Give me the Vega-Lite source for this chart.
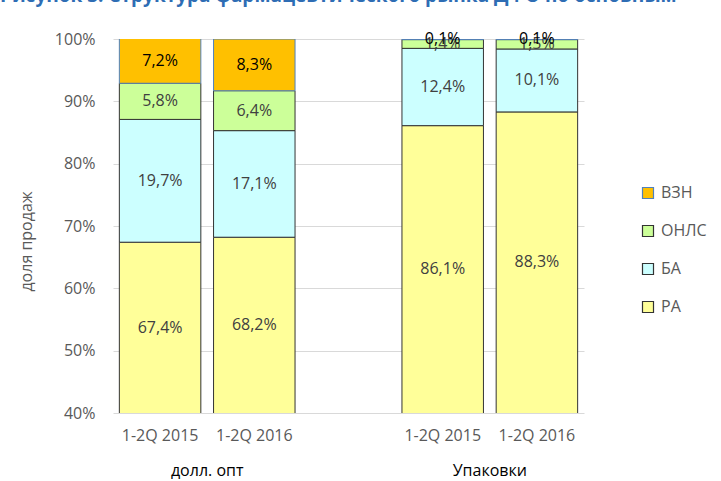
{
  "$schema": "https://vega.github.io/schema/vega-lite/v6.json",
  "width": 471,
  "height": 374,
  "autosize": {"type": "none"},
  "padding": {"left": 113, "top": 39, "right": 137, "bottom": 68},
  "background": "#ffffff",
  "title": {
    "text": "Рисунок 3. Структура фармацевтического рынка ДФО по основным",
    "anchor": "start",
    "frame": "group",
    "dx": -113,
    "offset": 10,
    "baseline": "alphabetic",
    "font": "Open Sans",
    "fontSize": 19,
    "fontWeight": "bold",
    "color": "#2E6DB4"
  },
  "config": {
    "view": {"stroke": null},
    "locale": {"number": {"decimal": ",", "thousands": " ", "grouping": [3], "currency": ["", ""]}},
    "axis": {"labelFont": "Open Sans", "titleFont": "Open Sans", "gridColor": "#D9D9D9"},
    "legend": {"labelFont": "Open Sans"}
  },
  "data": {
    "values": [
      {"group": "долл. опт", "period": "1-2Q 2015", "bar": "долл. опт, 1-2Q 2015", "cat": "РА", "val": 0.674},
      {"group": "долл. опт", "period": "1-2Q 2015", "bar": "долл. опт, 1-2Q 2015", "cat": "БА", "val": 0.197},
      {"group": "долл. опт", "period": "1-2Q 2015", "bar": "долл. опт, 1-2Q 2015", "cat": "ОНЛС", "val": 0.058},
      {"group": "долл. опт", "period": "1-2Q 2015", "bar": "долл. опт, 1-2Q 2015", "cat": "ВЗН", "val": 0.072},
      {"group": "долл. опт", "period": "1-2Q 2016", "bar": "долл. опт, 1-2Q 2016", "cat": "РА", "val": 0.682},
      {"group": "долл. опт", "period": "1-2Q 2016", "bar": "долл. опт, 1-2Q 2016", "cat": "БА", "val": 0.171},
      {"group": "долл. опт", "period": "1-2Q 2016", "bar": "долл. опт, 1-2Q 2016", "cat": "ОНЛС", "val": 0.064},
      {"group": "долл. опт", "period": "1-2Q 2016", "bar": "долл. опт, 1-2Q 2016", "cat": "ВЗН", "val": 0.083},
      {"group": "Упаковки", "period": "1-2Q 2015", "bar": "Упаковки, 1-2Q 2015", "cat": "РА", "val": 0.861},
      {"group": "Упаковки", "period": "1-2Q 2015", "bar": "Упаковки, 1-2Q 2015", "cat": "БА", "val": 0.124},
      {"group": "Упаковки", "period": "1-2Q 2015", "bar": "Упаковки, 1-2Q 2015", "cat": "ОНЛС", "val": 0.014},
      {"group": "Упаковки", "period": "1-2Q 2015", "bar": "Упаковки, 1-2Q 2015", "cat": "ВЗН", "val": 0.001},
      {"group": "Упаковки", "period": "1-2Q 2016", "bar": "Упаковки, 1-2Q 2016", "cat": "РА", "val": 0.883},
      {"group": "Упаковки", "period": "1-2Q 2016", "bar": "Упаковки, 1-2Q 2016", "cat": "БА", "val": 0.101},
      {"group": "Упаковки", "period": "1-2Q 2016", "bar": "Упаковки, 1-2Q 2016", "cat": "ОНЛС", "val": 0.015},
      {"group": "Упаковки", "period": "1-2Q 2016", "bar": "Упаковки, 1-2Q 2016", "cat": "ВЗН", "val": 0.001}
    ]
  },
  "layer": [
    {
      "mark": {"type": "bar", "clip": true, "strokeWidth": 1},
      "encoding": {
        "x": {
          "field": "bar", "type": "nominal",
          "scale": {"type": "band", "domain": ["долл. опт, 1-2Q 2015", "долл. опт, 1-2Q 2016", " ", "Упаковки, 1-2Q 2015", "Упаковки, 1-2Q 2016"], "paddingInner": 0.135, "paddingOuter": 0.0675},
          "axis": {"title": null, "labelExpr": "split(datum.label, ', ')[1] || ''", "labelAngle": 0, "domain": false, "ticks": false, "grid": false, "labelPadding": 14, "labelFontSize": 16, "labelColor": "#595959"}
        },
        "y": {
          "field": "val", "type": "quantitative", "stack": "zero",
          "scale": {"domain": [0.4, 1]},
          "axis": {"title": "доля продаж", "format": ".0%", "values": [0.4, 0.5, 0.6, 0.7, 0.8, 0.9, 1.0], "domain": false, "ticks": false, "grid": true, "labelPadding": 18, "labelFontSize": 16, "labelColor": "#595959", "titleFontSize": 16, "titleFontWeight": "normal", "titleColor": "#595959", "titlePadding": 20, "titleY": 202}
        },
        "order": {"field": "group"},
        "fill": {
          "field": "cat", "type": "nominal", "sort": ["РА", "БА", "ОНЛС", "ВЗН"],
          "scale": {"range": ["#FFFF99", "#CCFFFF", "#CCFF99", "#FFC000"]},
          "legend": {
            "title": null, "orient": "none", "legendX": 527, "legendY": 146,
            "values": ["ВЗН", "ОНЛС", "БА", "РА"],
            "symbolType": "square", "symbolSize": 121, "symbolStrokeWidth": 1,
            "labelFontSize": 16, "labelColor": "#595959", "rowPadding": 22, "labelOffset": 5,
            "encode": {"symbols": {"update": {"stroke": {"scale": "stroke", "field": "value"}, "strokeWidth": {"value": 1.2}}}}
          }
        },
        "stroke": {
          "field": "cat", "type": "nominal", "sort": ["РА", "БА", "ОНЛС", "ВЗН"],
          "scale": {"range": ["#333333", "#333333", "#333333", "#4F81BD"]},
          "legend": null
        }
      }
    },
    {
      "mark": {"type": "text", "font": "Open Sans", "fontSize": 16},
      "encoding": {
        "x": {
          "field": "group", "type": "nominal", "sort": ["долл. опт", "Упаковки"],
          "scale": {"type": "band", "paddingInner": 0.3333, "paddingOuter": 0},
          "axis": {"title": null, "orient": "bottom", "domain": false, "ticks": false, "grid": false, "labelAngle": 0, "labelPadding": 49, "labelFontSize": 16, "labelColor": "#000000"}
        },
        "xOffset": {"field": "period", "type": "nominal", "scale": {"type": "band", "paddingInner": 0.135, "paddingOuter": 0.0675}},
        "y": {"field": "val", "type": "quantitative", "stack": "zero", "bandPosition": 0.5, "scale": {"domain": [0.4, 1]}, "axis": null},
        "order": {"field": "group"},
        "color": {
          "field": "cat", "type": "nominal", "sort": ["РА", "БА", "ОНЛС", "ВЗН"],
          "scale": {"range": ["#404040", "#404040", "#404040", "#000000"]},
          "legend": null
        },
        "text": {"condition": {"test": "datum.cat === 'РА'", "value": ""}, "field": "val", "type": "quantitative", "format": ".1%"}
      }
    },
    {
      "transform": [{"filter": "datum.cat === 'РА'"}],
      "mark": {"type": "text", "font": "Open Sans", "fontSize": 16, "color": "#404040"},
      "encoding": {
        "x": {
          "field": "group", "type": "nominal", "sort": ["долл. опт", "Упаковки"],
          "scale": {"type": "band", "paddingInner": 0.3333, "paddingOuter": 0},
          "axis": null
        },
        "xOffset": {"field": "period", "type": "nominal", "scale": {"type": "band", "paddingInner": 0.135, "paddingOuter": 0.0675}},
        "y": {"field": "val", "type": "quantitative", "scale": {"domain": [0.4, 1.6]}, "axis": null},
        "text": {"field": "val", "type": "quantitative", "format": ".1%"}
      }
    }
  ],
  "resolve": {
    "scale": {"x": "independent", "y": "independent", "color": "independent"},
    "axis": {"x": "independent", "y": "independent"}
  }
}
